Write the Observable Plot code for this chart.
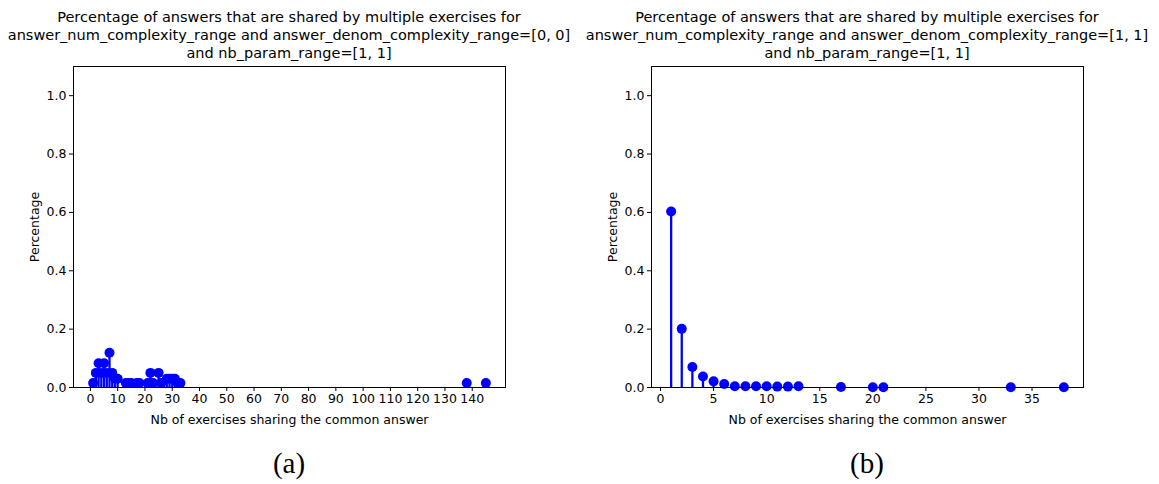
<!DOCTYPE html>
<html>
<head>
<meta charset="utf-8">
<script src="https://cdn.jsdelivr.net/npm/d3@7"></script>
<script src="https://cdn.jsdelivr.net/npm/@observablehq/plot@0.6"></script>
<style>
  body { margin: 0; background: #fff; }
  #root { position: relative; width: 1159px; height: 484px; overflow: hidden; font-family: "DejaVu Sans", sans-serif; }
  .panel { position: absolute; top: 0; width: 579px; height: 430px; }
  .title { position: absolute; top: 8px; width: 640px; text-align: center; font-size: 14.5px; line-height: 18px; color: #000; white-space: nowrap; }
  .cap { position: absolute; top: 447px; width: 100px; text-align: center; font-family: "Liberation Serif", serif; font-size: 29px; color: #000; }
</style>
</head>
<body>
<div id="root"></div>
<script>
// Panel (a): answer_denom_complexity_range=[0, 0]
const aX = [1, 2, 3, 4, 5, 6, 7, 8, 9, 10, 13, 14, 15, 17, 18, 21, 22, 23, 25, 26, 28, 29, 30, 31, 32, 33, 138, 145];
const aY = [0.015, 0.05, 0.083, 0.05, 0.083, 0.05, 0.119, 0.05, 0.03, 0.03, 0.015, 0.015, 0.015, 0.015, 0.015, 0.015, 0.05, 0.015, 0.05, 0.015, 0.03, 0.03, 0.03, 0.03, 0.015, 0.015, 0.015, 0.015];
// Panel (b): answer_denom_complexity_range=[1, 1]
const bX = [1, 2, 3, 4, 5, 6, 7, 8, 9, 10, 11, 12, 13, 17, 20, 21, 33, 38];
const bY = [0.603, 0.201, 0.07, 0.038, 0.021, 0.012, 0.004, 0.004, 0.004, 0.004, 0.003, 0.003, 0.004, 0.002, 0.001, 0.001, 0.001, 0.001];

const aTicks = d3.range(0, 141, 10);
const bTicks = d3.range(0, 36, 5);
const yTicks = [0, 0.2, 0.4, 0.6, 0.8, 1.0];

const titlesA = ["Percentage of answers that are shared by multiple exercises for",
  "answer_num_complexity_range and answer_denom_complexity_range=[0, 0]",
  "and nb_param_range=[1, 1]"];
const titlesB = ["Percentage of answers that are shared by multiple exercises for",
  "answer_num_complexity_range and answer_denom_complexity_range=[1, 1]",
  "and nb_param_range=[1, 1]"];
const xLabel = "Nb of exercises sharing the common answer";
const yLabel = "Percentage";

function panel(xs, ys, xDomain, xTicks, mL, mR) {
  const data = xs.map((x, i) => ({x, y: ys[i]}));
  return Plot.plot({
    width: 579, height: 430,
    marginLeft: mL, marginRight: mR, marginTop: 66, marginBottom: 43,
    style: {fontFamily: "DejaVu Sans, sans-serif", fontSize: "12.5px", color: "#000", background: "#fff"},
    x: {domain: xDomain, ticks: xTicks, tickFormat: d3.format("d"), tickSize: 4, tickPadding: 3,
        label: xLabel, labelAnchor: "center", labelArrow: "none", labelOffset: 36},
    y: {domain: [0, 1.1], ticks: yTicks, tickFormat: d3.format(".1f"), tickSize: 4, tickPadding: 3,
        label: yLabel, labelAnchor: "center", labelArrow: "none", labelOffset: 43},
    marks: [
      Plot.ruleX(data, {x: "x", y1: 0, y2: "y", stroke: "#0000ff", strokeWidth: 2.3}),
      Plot.dot(data, {x: "x", y: "y", r: 5, fill: "#0000ff", stroke: "none"}),
      Plot.frame({stroke: "#000", strokeWidth: 1})
    ]
  });
}

const root = document.getElementById("root");
function addPanel(left, svg, titles, plotCenter, cap) {
  const p = document.createElement("div");
  p.className = "panel"; p.style.left = left + "px";
  p.appendChild(svg);
  root.appendChild(p);
  const t = document.createElement("div");
  t.className = "title";
  t.style.left = (plotCenter - 320) + "px";
  t.innerHTML = titles.map(s => `<div>${s}</div>`).join("");
  root.appendChild(t);
  const c = document.createElement("div");
  c.className = "cap"; c.style.left = (plotCenter - 50) + "px";
  c.textContent = cap;
  root.appendChild(c);
}
addPanel(0, panel(aX, aY, [-6.2, 152.2], aTicks, 73, 74), titlesA, 289, "(a)");
addPanel(580, panel(bX, bY, [-0.85, 39.85], bTicks, 71, 76), titlesB, 867, "(b)");
</script>
</body>
</html>
